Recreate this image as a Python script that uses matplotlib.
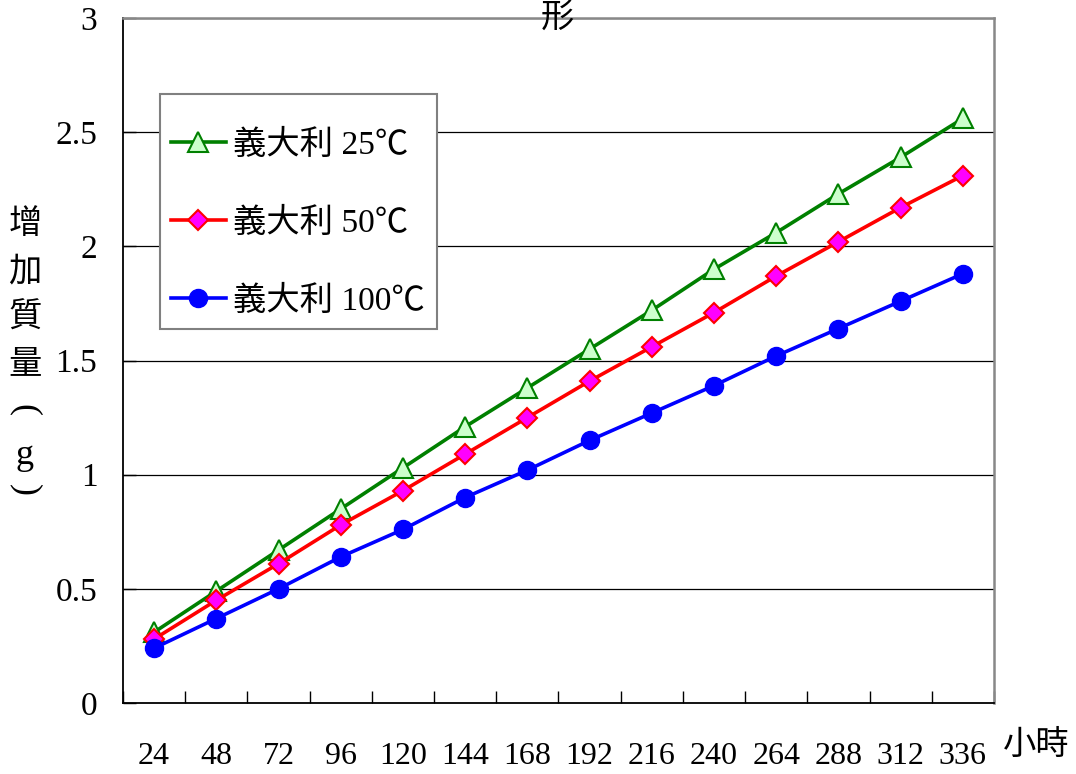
import matplotlib
matplotlib.use("Agg")
import matplotlib.pyplot as plt
from matplotlib.lines import Line2D
from matplotlib.patches import Rectangle

# Hours of exposure (category axis) and mass gained in grams
hours = [24, 48, 72, 96, 120, 144, 168, 192, 216, 240, 264, 288, 312, 336]
gain_25c = [0.31, 0.49, 0.67, 0.85, 1.03, 1.21, 1.38, 1.55, 1.72, 1.90, 2.06, 2.23, 2.39, 2.56]
gain_50c = [0.28, 0.45, 0.61, 0.78, 0.93, 1.09, 1.25, 1.41, 1.56, 1.71, 1.87, 2.02, 2.17, 2.31]
gain_100c = [0.24, 0.37, 0.50, 0.64, 0.76, 0.90, 1.02, 1.15, 1.27, 1.39, 1.52, 1.64, 1.76, 1.88]
series_labels = ["義大利 25℃", "義大利 50℃", "義大利 100℃"]
y_ticks = [0, 0.5, 1, 1.5, 2, 2.5, 3]
y_tick_labels = ["0", "0.5", "1", "1.5", "2", "2.5", "3"]

FONT = ["Liberation Serif", "Noto Sans CJK TC", "DejaVu Sans"]
plt.rcParams["font.family"] = FONT

W, H = 1076, 774
fig = plt.figure(figsize=(W / 100, H / 100), dpi=100)
ax = fig.add_axes([123 / W, 1 - 703 / H, (994 - 123) / W, (703 - 18) / H])

x = list(range(len(hours)))
styles = [
    dict(color="#008000", marker="^", markersize=14, markerfacecolor="#ccffcc",
         markeredgecolor="#008000", markeredgewidth=1.5),
    dict(color="#ff0000", marker="D", markersize=10, markerfacecolor="#ff00ff",
         markeredgecolor="#ff0000", markeredgewidth=1.5),
    dict(color="#0000ff", marker="o", markersize=13, markerfacecolor="#0000ff",
         markeredgecolor="#0000ff", markeredgewidth=1.0),
]
for vals, st, lab in zip([gain_25c, gain_50c, gain_100c], styles, series_labels):
    ax.plot(x, vals, linewidth=2.6, label=lab, zorder=3, clip_on=False, **st)

ax.set_xlim(-0.5, len(hours) - 0.5)
ax.set_ylim(0, 3)

# horizontal gridlines
for yv in y_ticks[1:]:
    ax.axhline(yv, color="black", linewidth=0.9, zorder=1)

# category boundaries get the tick marks, centres get the labels
ax.set_xticks([i - 0.5 for i in range(len(hours) + 1)])
ax.set_xticklabels([])
ax.set_xticks(x, minor=True)
ax.set_xticklabels([str(h) for h in hours], minor=True, fontsize=23)
ax.tick_params(axis="x", which="major", direction="in", length=9, width=1.0, color="black")
ax.tick_params(axis="x", which="minor", length=0, pad=28)

ax.set_yticks(y_ticks)
ax.set_yticklabels(y_tick_labels, fontsize=24)
ax.tick_params(axis="y", direction="in", length=9, width=1.0, pad=18.5)

for side in ("left", "bottom"):
    ax.spines[side].set_color("black")
    ax.spines[side].set_linewidth(1.3)
for side in ("top", "right"):
    ax.spines[side].set_color("#888888")
    ax.spines[side].set_linewidth(1.8)

# title peeking in at the top edge
fig.text(557 / W, 1 - 18 / H, "形", fontsize=24, ha="center", va="center")

# vertical y-axis label, one character per line; brackets turned sideways
ylabel_items = [("增", 225, 0, 24), ("加", 272, 0, 24), ("質", 318, 0, 24),
                ("量", 365, 0, 24), ("(", 410, -90, 26), ("g", 455, 0, 26),
                (")", 490, -90, 26)]
for ch, yy, rot, fs in ylabel_items:
    fig.text(25 / W, 1 - yy / H, ch, fontsize=fs, ha="center", va="center",
             rotation=rot)

fig.text(1036 / W, 1 - 745 / H, "小時", fontsize=24, ha="center", va="center")

# legend box
fig.patches.append(Rectangle((160 / W, 1 - 329 / H), (437 - 160) / W, (329 - 94) / H,
                             transform=fig.transFigure, facecolor="white",
                             edgecolor="#808080", linewidth=1.5, zorder=5))
handles = [Line2D([], [], linewidth=2.6, **st) for st in styles]
leg = fig.legend(handles, series_labels, loc="upper left",
                 bbox_to_anchor=(154 / W, 1 - 113 / H), frameon=False,
                 fontsize=24, handlelength=1.65, handletextpad=0.22,
                 labelspacing=1.41, borderpad=0.0)
leg.set_zorder(6)

fig.savefig("out.png", dpi=100, facecolor="white")
